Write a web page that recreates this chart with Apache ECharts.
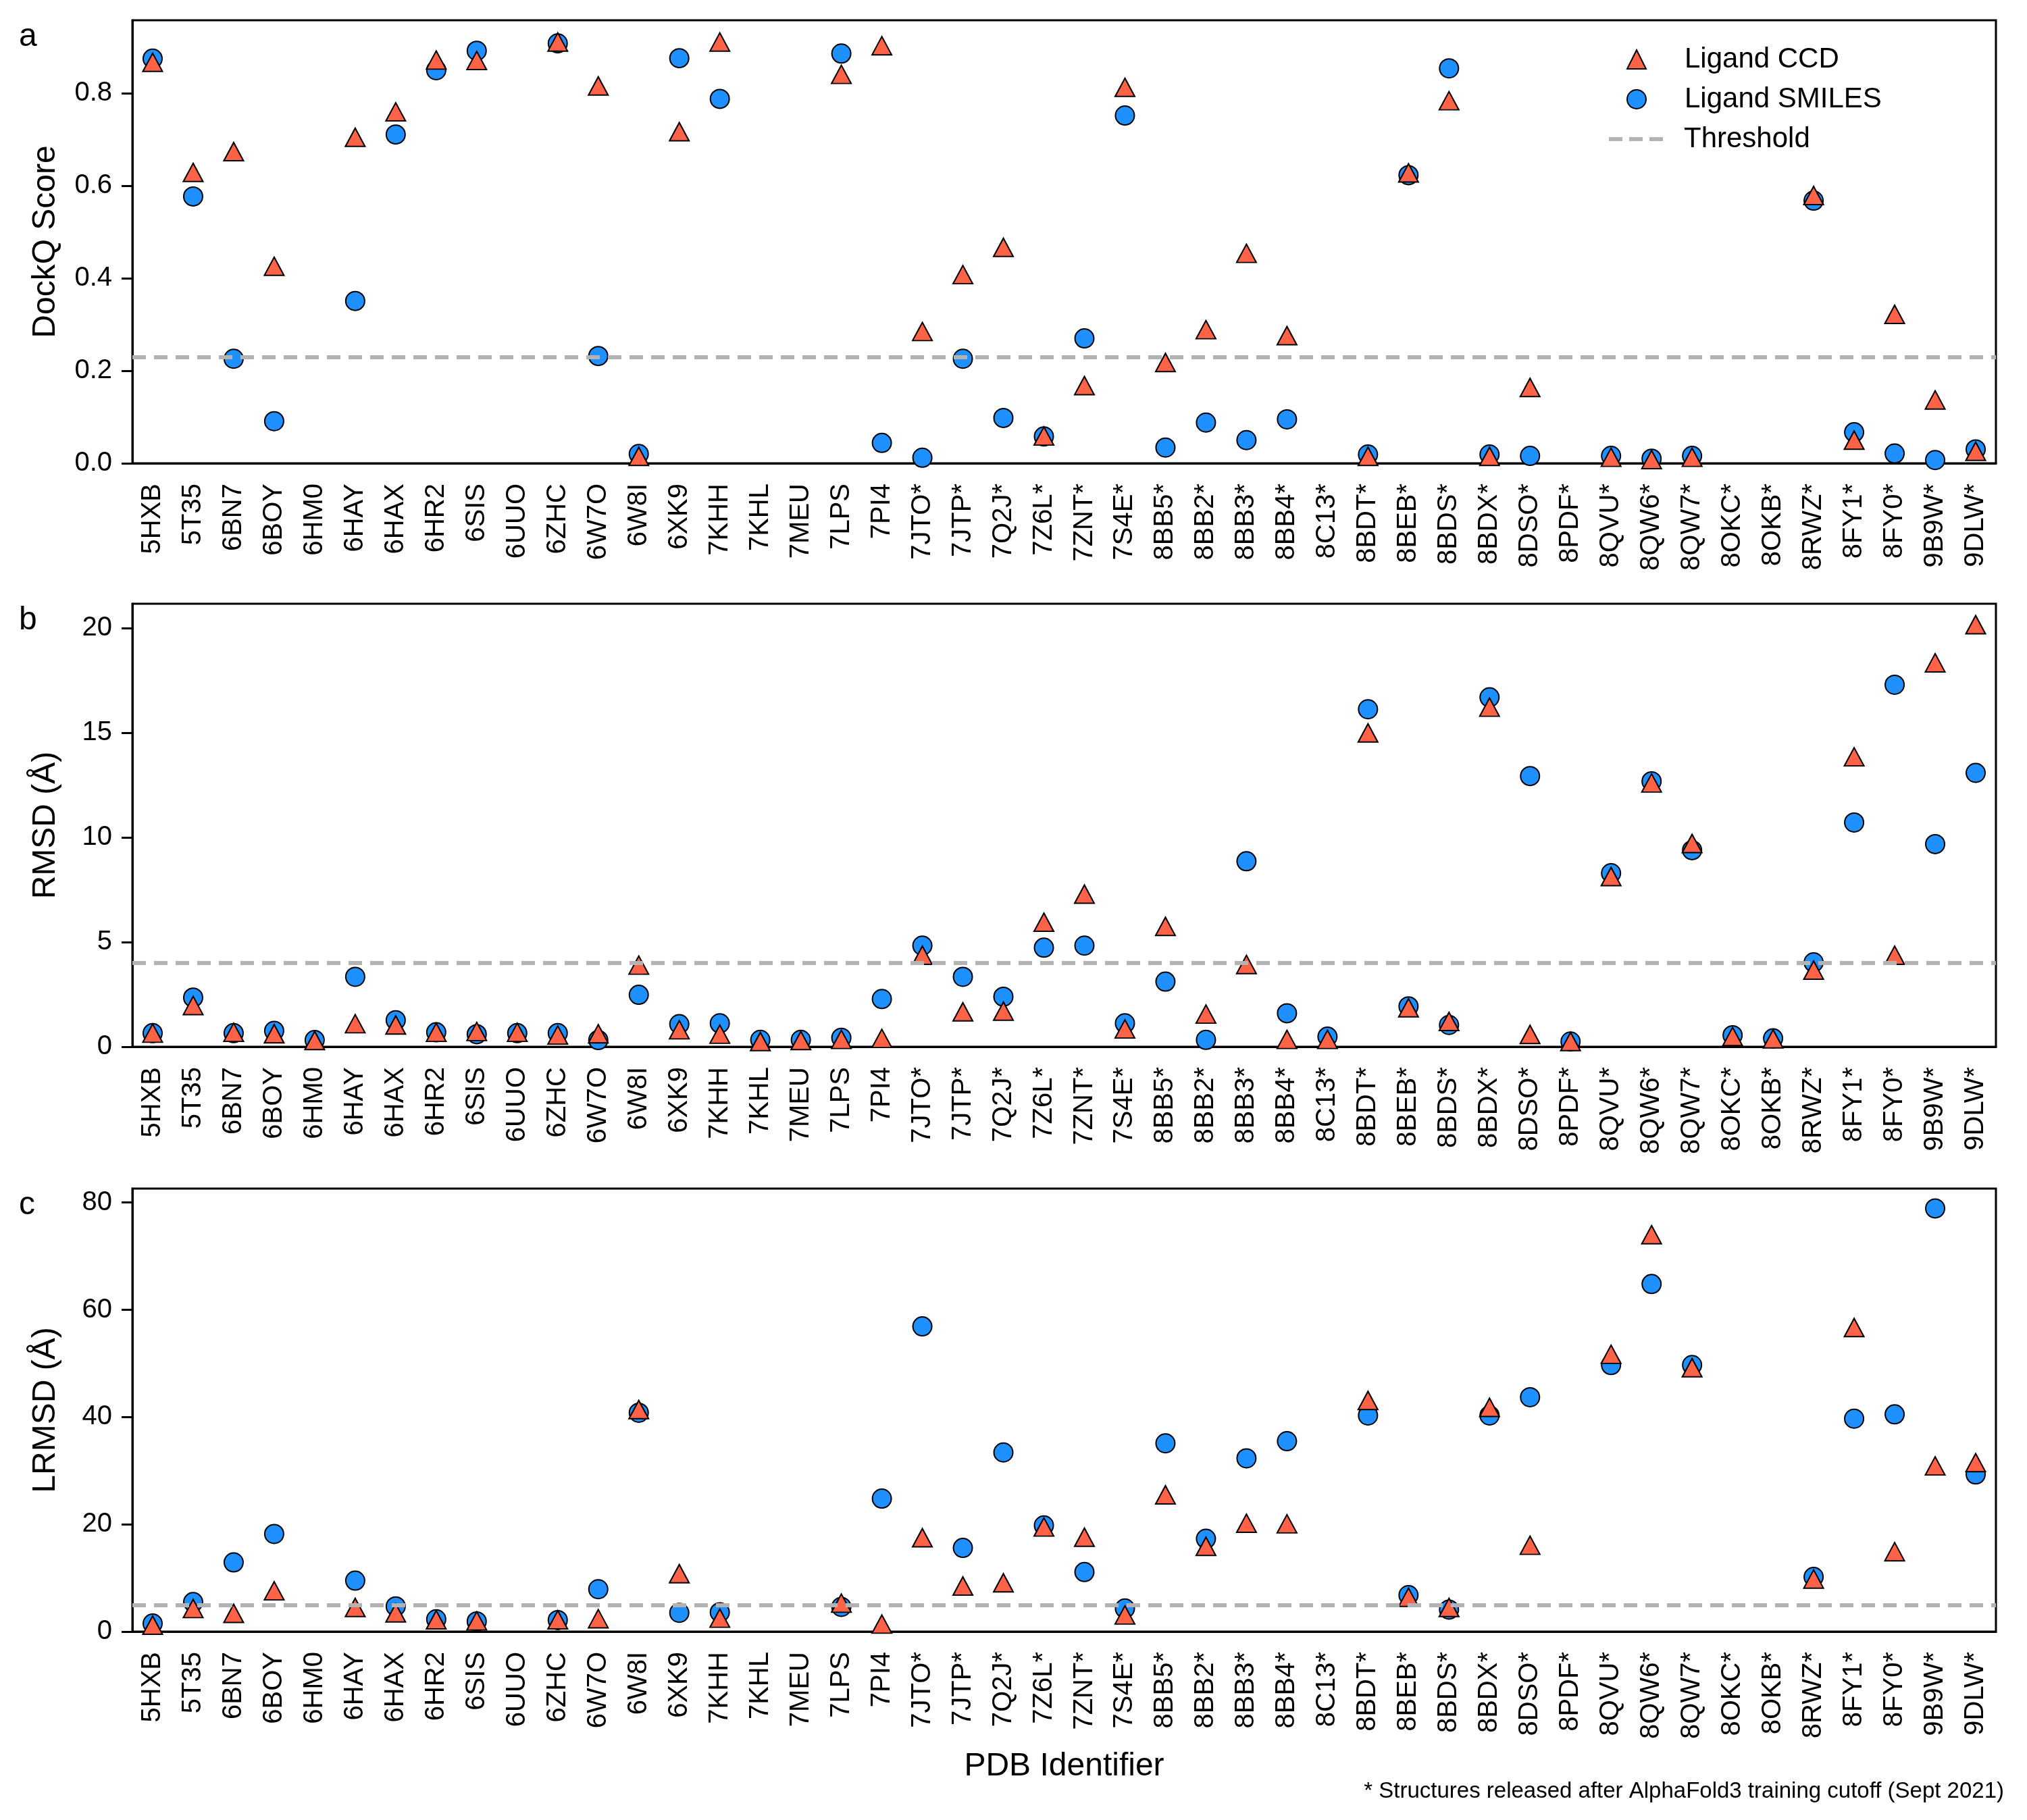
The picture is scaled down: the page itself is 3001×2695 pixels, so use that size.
<!DOCTYPE html>
<html>
<head>
<meta charset="utf-8">
<script src="https://cdn.jsdelivr.net/npm/echarts@6/dist/echarts.min.js"></script>
<style>
  html, body { margin: 0; padding: 0; background: #fff; }
  #chart { width: 3001px; height: 2695px; }
</style>
</head>
<body>
<div id="chart"></div>
<script>
// PDB identifiers (* = released after AF3 training cutoff)
const pdbIds = ['5HXB','5T35','6BN7','6BOY','6HM0','6HAY','6HAX','6HR2','6SIS','6UUO','6ZHC','6W7O','6W8I','6XK9','7KHH','7KHL','7MEU','7LPS','7PI4',
  '7JTO*','7JTP*','7Q2J*','7Z6L*','7ZNT*','7S4E*','8BB5*','8BB2*','8BB3*','8BB4*','8C13*','8BDT*','8BEB*','8BDS*','8BDX*','8DSO*','8PDF*',
  '8QVU*','8QW6*','8QW7*','8OKC*','8OKB*','8RWZ*','8FY1*','8FY0*','9B9W*','9DLW*']

// DockQ score
const dockqCCD = [0.867,0.629,0.674,0.426,null,0.705,0.760,0.872,0.871,null,0.911,0.816,0.015,0.717,0.911,null,null,0.841,0.903,
  0.285,0.408,0.467,0.059,0.168,0.813,0.218,0.289,0.454,0.276,null,0.015,0.628,0.784,0.015,0.164,null,
  0.013,0.008,0.013,null,null,0.579,0.050,0.322,0.137,0.026]
const dockqSMILES = [0.875,0.577,0.226,0.091,null,0.351,0.711,0.850,0.892,null,0.908,0.232,0.020,0.876,0.788,null,null,0.886,0.044,
  0.012,0.226,0.098,0.058,0.270,0.752,0.034,0.088,0.050,0.095,null,0.019,0.623,0.854,0.019,0.016,null,
  0.016,0.010,0.016,null,null,0.568,0.067,0.021,0.007,0.030]

// RMSD (Å)
const rmsdCCD = [0.65,1.97,0.69,0.62,0.30,1.10,1.04,0.69,0.73,0.69,0.56,0.62,3.90,0.81,0.60,0.25,0.30,0.35,0.40,
  4.37,1.67,1.70,5.95,7.29,0.85,5.75,1.56,3.93,0.35,0.35,14.99,1.86,1.21,16.22,0.59,0.25,
  8.13,12.60,9.71,0.49,0.38,3.66,13.85,4.37,18.34,20.16]
const rmsdSMILES = [0.65,2.35,0.65,0.76,0.32,3.34,1.27,0.69,0.60,0.65,0.65,0.32,2.48,1.08,1.12,0.33,0.33,0.43,2.28,
  4.83,3.34,2.39,4.73,4.83,1.12,3.11,0.33,8.86,1.60,0.48,16.12,1.93,1.04,16.69,12.93,0.25,
  8.29,12.68,9.39,0.55,0.40,4.03,10.71,17.29,9.68,13.08]

// LRMSD (Å)
const lrmsdCCD = [1.2,4.3,3.4,7.6,null,4.5,3.5,2.2,2.0,null,2.2,2.4,41.4,10.8,2.5,null,null,5.3,1.4,
  17.5,8.5,9.1,19.5,17.6,3.1,25.5,15.9,20.2,20.1,null,43.1,6.4,4.5,41.8,16.1,null,
  51.7,74.0,49.2,null,null,9.8,56.7,14.9,30.9,31.5]
const lrmsdSMILES = [1.5,5.5,12.9,18.2,null,9.5,4.7,2.3,1.9,null,2.15,7.9,40.8,3.5,3.6,null,null,4.6,24.8,
  56.9,15.6,33.4,19.8,11.1,4.3,35.1,17.3,32.3,35.5,null,40.3,6.8,4.1,40.3,43.7,null,
  49.7,64.8,49.7,null,null,10.2,39.7,40.5,78.9,29.3]

// thresholds
const thresholds = [0.23, 4, 5]
const yNames = ['DockQ Score', 'RMSD (Å)', 'LRMSD (Å)']
const yMax = [0.958, 21.16, 82.6]
const yTicks = [[0, 0.2, 0.4, 0.6, 0.8], [0, 5, 10, 15, 20], [0, 20, 40, 60, 80]]
const panelLetters = ['a', 'b', 'c']

const FONT = '"Liberation Sans", Arial, Helvetica, sans-serif'
const CCD_COLOR = '#FF6347'
const SMILES_COLOR = '#1E90FF'
const THR_COLOR = '#b3b3b3'

const gridTops = [30, 894, 1760]
const gridHeight = 656

const chart = echarts.init(document.getElementById('chart'))

const toData = (arr) => arr.map(v => (v == null ? '-' : v))

const grids = [], xAxes = [], yAxes = [], series = [], graphics = []
const panels = [[dockqCCD, dockqSMILES], [rmsdCCD, rmsdSMILES], [lrmsdCCD, lrmsdSMILES]]

panels.forEach((p, i) => {
  grids.push({
    left: 196, right: 46, top: gridTops[i], height: gridHeight,
    show: true, borderColor: '#000', borderWidth: 3, backgroundColor: 'transparent'
  })
  xAxes.push({
    type: 'category', gridIndex: i, data: pdbIds, boundaryGap: true,
    axisLine: { lineStyle: { color: '#000', width: 3 } },
    axisTick: { alignWithLabel: true, interval: 0, length: 16, lineStyle: { color: '#000', width: 3 } },
    axisLabel: { interval: 0, rotate: 90, fontSize: 40, fontFamily: FONT, color: '#000', margin: 30 },
    splitLine: { show: false },
    name: i === 2 ? 'PDB Identifier' : '',
    nameLocation: 'middle', nameGap: 176,
    nameTextStyle: { fontSize: 48, fontFamily: FONT, color: '#000' }
  })
  yAxes.push({
    type: 'value', gridIndex: i, min: 0, max: yMax[i],
    axisLine: { show: true, lineStyle: { color: '#000', width: 3 } },
    axisTick: { show: true, length: 16, lineStyle: { color: '#000', width: 3 }, customValues: yTicks[i] },
    axisLabel: {
      fontSize: 40, fontFamily: FONT, color: '#000', margin: 30, customValues: yTicks[i],
      formatter: (v) => (i === 0 ? v.toFixed(1) : String(Math.round(v)))
    },
    splitLine: { show: false },
    name: yNames[i], nameLocation: 'middle', nameRotate: 90, nameGap: 104,
    nameTextStyle: { fontSize: 48, fontFamily: FONT, color: '#000' }
  })

  // threshold line (full width) via markLine on an empty line series
  series.push({
    name: 'Threshold', type: 'line', xAxisIndex: i, yAxisIndex: i, data: [],
    symbol: 'none', z: 1,
    lineStyle: { color: THR_COLOR, width: 6, type: [20, 12] },
    itemStyle: { color: THR_COLOR },
    markLine: {
      silent: true, symbol: ['none', 'none'], label: { show: false },
      lineStyle: { color: THR_COLOR, width: 6, type: [20, 12] },
      data: [{ yAxis: thresholds[i] }]
    }
  })
  series.push({
    name: 'Ligand SMILES', type: 'scatter', xAxisIndex: i, yAxisIndex: i, z: 2,
    data: toData(p[1]), symbol: 'circle', symbolSize: 28,
    itemStyle: { color: SMILES_COLOR, borderColor: '#000', borderWidth: 2, opacity: 1 }
  })
  series.push({
    name: 'Ligand CCD', type: 'scatter', xAxisIndex: i, yAxisIndex: i, z: 3,
    data: toData(p[0]), symbol: 'triangle', symbolSize: [29, 27],
    itemStyle: { color: CCD_COLOR, borderColor: '#000', borderWidth: 2, opacity: 1 }
  })

  graphics.push({
    type: 'text', left: 28, top: gridTops[i] + 1,
    style: { text: panelLetters[i], fontSize: 48, fontFamily: FONT, fill: '#000' }
  })
})

graphics.push({
  type: 'text', right: 34, top: 2636,
  style: { text: '* Structures released after AlphaFold3 training cutoff (Sept 2021)', fontSize: 33, fontFamily: FONT, fill: '#000' }
})

chart.setOption({
  backgroundColor: '#fff',
  animation: false,
  grid: grids,
  xAxis: xAxes,
  yAxis: yAxes,
  series: series,
  legend: [
    {
      data: ['Ligand CCD', 'Ligand SMILES'],
      orient: 'vertical', left: 2403, top: 62,
      itemWidth: 28, itemHeight: 28, itemGap: 17,
      selectedMode: false,
      textStyle: { fontSize: 42, fontFamily: FONT, color: '#000', lineHeight: 42, padding: [0, 0, 0, 52] }
    },
    {
      data: [{ name: 'Threshold', icon: 'path://M0,0h20v6h-20z M30,0h20v6h-20z M60,0h20v6h-20z' }],
      orient: 'vertical', left: 2377, top: 180,
      itemWidth: 80, itemHeight: 28,
      selectedMode: false,
      textStyle: { fontSize: 42, fontFamily: FONT, color: '#000', lineHeight: 42, padding: [0, 0, 0, 26] }
    }
  ],
  graphic: graphics
})
</script>
</body>
</html>
